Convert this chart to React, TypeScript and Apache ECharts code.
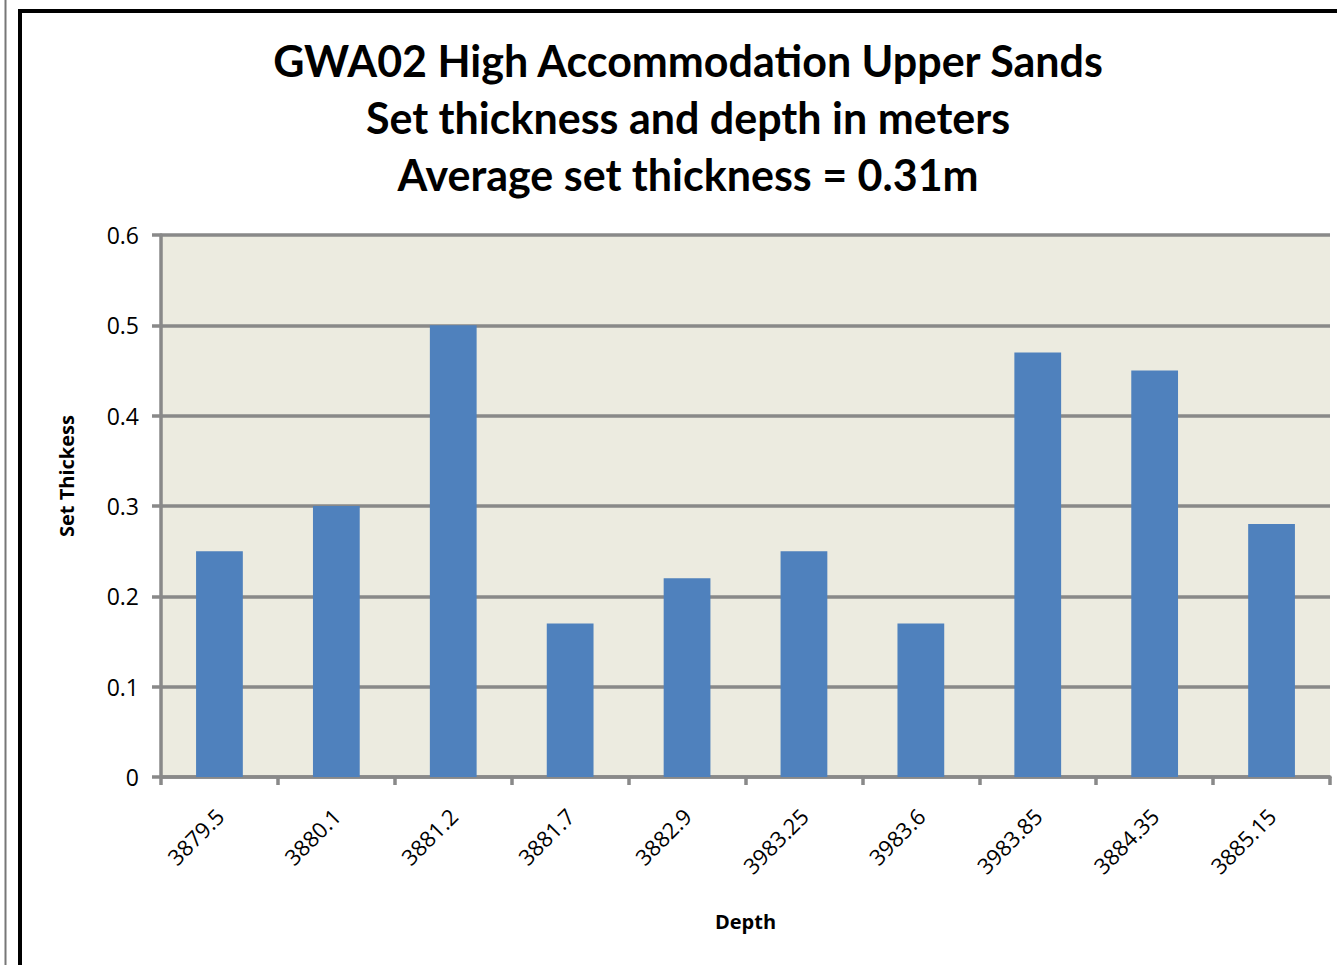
import React, { useEffect, useRef } from "react";
import * as echarts from "echarts";

const categories = ["3879.5", "3880.1", "3881.2", "3881.7", "3882.9", "3983.25", "3983.6", "3983.85", "3884.35", "3885.15"];
const thickness = [0.25, 0.3, 0.5, 0.17, 0.22, 0.25, 0.17, 0.47, 0.45, 0.28];
const titleLines = ["GWA02 High Accommodation Upper Sands", "Set thickness and depth in meters", "Average set thickness = 0.31m"];

export default function App() {
  const ref = useRef<HTMLDivElement>(null);
  useEffect(() => {
    const chart = echarts.init(ref.current!, null, { renderer: "svg" });
    const gray = "#898989";
    const font = "'Open Sans', 'DejaVu Sans', sans-serif";
    chart.setOption({
      animation: false,
      backgroundColor: "#ffffff",
      title: {
        text: titleLines.join("\n"),
        left: 688,
        textAlign: "center",
        top: 32,
        padding: 0,
        textStyle: { fontFamily: "Lato, 'Open Sans', sans-serif", fontWeight: "bold", fontSize: 43, lineHeight: 57, color: "#000" },
      },
      graphic: [
        { type: "line", shape: { x1: 5.5, y1: 0, x2: 5.5, y2: 965 }, style: { stroke: "#777", lineWidth: 2 } },
        { type: "line", shape: { x1: 20, y1: 10, x2: 20, y2: 965 }, style: { stroke: "#000", lineWidth: 4 } },
        { type: "line", shape: { x1: 18, y1: 11, x2: 1337, y2: 11 }, style: { stroke: "#000", lineWidth: 4 } },
        {
          type: "text",
          x: 66,
          y: 476,
          rotation: Math.PI / 2,
          style: { text: "Set Thickess", font: "bold 20px 'Open Sans', sans-serif", fill: "#000", textAlign: "center", textVerticalAlign: "middle" },
        },
      ],
      grid: { left: 161, top: 235, right: 7, bottom: 188, containLabel: false, show: true, backgroundColor: "#ecebe0", borderWidth: 0 },
      xAxis: {
        type: "category",
        data: categories,
        name: "Depth",
        nameLocation: "middle",
        nameGap: 134,
        nameTextStyle: { fontFamily: font, fontWeight: "bold", fontSize: 20, color: "#000" },
        axisLine: { lineStyle: { color: gray, width: 3.5 } },
        axisTick: { show: true, length: 8, lineStyle: { color: gray, width: 3.5 } },
        axisLabel: { rotate: 45, margin: 35, fontFamily: font, fontSize: 22, color: "#000", interval: 0 },
        splitLine: { show: false },
      },
      yAxis: {
        type: "value",
        min: 0,
        max: 0.6,
        interval: 0.1,
        axisLine: { show: true, lineStyle: { color: gray, width: 3.5 } },
        axisTick: { show: true, length: 9, lineStyle: { color: gray, width: 3.5 } },
        axisLabel: { margin: 22, fontFamily: font, fontSize: 23, color: "#000" },
        splitLine: { show: true, lineStyle: { color: gray, width: 3.5 } },
      },
      series: [
        {
          type: "bar",
          data: thickness,
          barWidth: "40%",
          itemStyle: { color: "#4f81bd" },
        },
      ],
    });
    return () => chart.dispose();
  }, []);
  return <div ref={ref} style={{ position: "fixed", left: 0, top: 0, width: 1337, height: 965 }} />;
}
